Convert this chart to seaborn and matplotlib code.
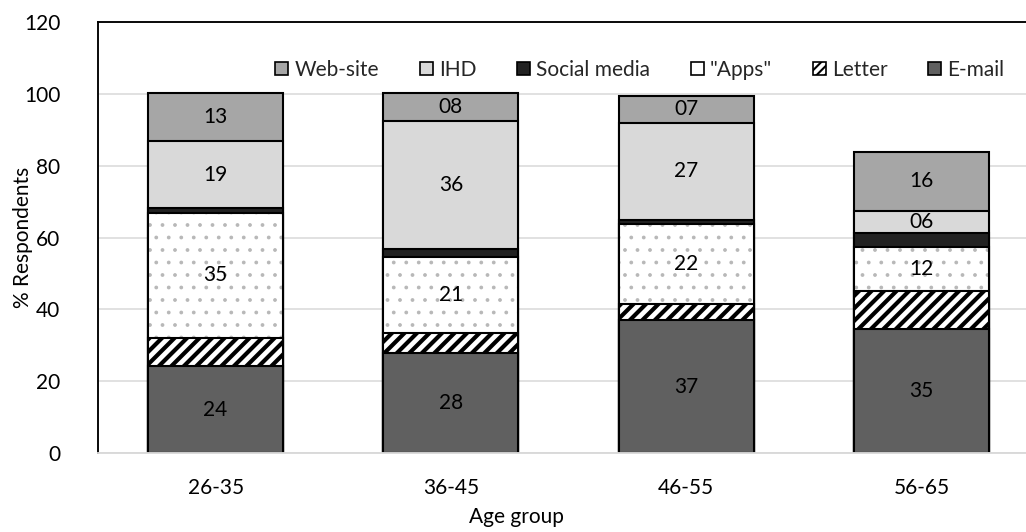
import numpy as np
import pandas as pd
import matplotlib
matplotlib.use("Agg")
import matplotlib.pyplot as plt
import seaborn as sns
from matplotlib.patches import Patch

# ---- data ----
age_groups = ["26-35", "36-45", "46-55", "56-65"]
email = [24.2, 27.8, 37.0, 34.6]
letter = [7.9, 5.5, 4.4, 10.4]
apps = [34.7, 21.4, 22.3, 12.3]
social_media = [1.4, 2.1, 1.2, 4.0]
ihd = [18.6, 35.6, 27.1, 6.2]
website = [13.3, 7.8, 7.3, 16.2]

series_names = ["E-mail", "Letter", '"Apps"', "Social media", "IHD", "Web-site"]
series_vals = [email, letter, apps, social_media, ihd, website]
labelled = {"E-mail", '"Apps"', "IHD", "Web-site"}

df = pd.DataFrame({n: v for n, v in zip(series_names, series_vals)}, index=age_groups)
cum = df.cumsum(axis=1)
bottoms = cum.shift(1, axis=1).fillna(0)

sns.set_theme(style="white")
plt.rcParams["font.family"] = ["Lato", "DejaVu Sans"]
plt.rcParams["font.size"] = 10

W, H, DPI = 1026, 532, 150
fig = plt.figure(figsize=(W / DPI, H / DPI), dpi=DPI)
ax = fig.add_axes([98 / W, (H - 453) / H, 941 / W, 431 / H])

BW = 0.574
EDGE = 1.0
styles = {
    "Web-site": dict(color="#A6A6A6"),
    "IHD": dict(color="#D9D9D9"),
    "Social media": dict(color="#222222"),
    '"Apps"': dict(color="white"),
    "Letter": dict(color="white"),
    "E-mail": dict(color="#606060"),
}

x = age_groups
for name in reversed(series_names):
    y = cum[name].values
    if name == '"Apps"':
        sns.barplot(x=x, y=y, color="white", saturation=1, width=BW,
                    edgecolor="#b8b8b8", linewidth=0, hatch="..", ax=ax,
                    errorbar=None)
        for p in ax.containers[-1]:
            if hasattr(p, "set_hatch_linewidth"):
                p.set_hatch_linewidth(0.6)
        sns.barplot(x=x, y=y, color="black", fill=False, saturation=1, width=BW,
                    linewidth=EDGE, ax=ax, errorbar=None)
    elif name == "Letter":
        with plt.rc_context({"hatch.linewidth": 2.0}):
            sns.barplot(x=x, y=y, color="white", saturation=1, width=BW,
                        edgecolor="black", linewidth=EDGE, hatch="////", ax=ax,
                        errorbar=None)
        for p in ax.containers[-1]:
            if hasattr(p, "set_hatch_linewidth"):
                p.set_hatch_linewidth(2.0)
    else:
        sns.barplot(x=x, y=y, color=styles[name]["color"], saturation=1, width=BW,
                    edgecolor="black", linewidth=EDGE, ax=ax, errorbar=None)

# value labels
for name in series_names:
    if name not in labelled:
        continue
    for i, g in enumerate(age_groups):
        v = df.loc[g, name]
        ax.text(i, bottoms.loc[g, name] + v / 2, f"{v:02.0f}", ha="center",
                va="center", fontsize=10, color="black", zorder=5)

ax.set_xlim(-0.5, 3.5)
ax.set_ylim(0, 120)
ax.set_yticks(np.arange(0, 121, 20))
ax.yaxis.grid(True, color="#D9D9D9", linewidth=0.75)
ax.set_axisbelow(True)
ax.spines["right"].set_visible(False)
ax.spines["left"].set_color("black")
ax.spines["left"].set_linewidth(0.9)
ax.spines["top"].set_color("black")
ax.spines["top"].set_linewidth(0.9)
ax.spines["bottom"].set_color("#D9D9D9")
ax.spines["bottom"].set_linewidth(0.9)
ax.tick_params(axis="y", length=0, pad=18, labelsize=10, colors="black")
ax.tick_params(axis="x", length=0, pad=12, labelsize=10, colors="black")

ax.set_xlabel("Age group", fontsize=10, color="black")
ax.set_ylabel("% Respondents", fontsize=10, color="black")
ax.xaxis.set_label_coords(0.445, -0.125)
ax.yaxis.set_label_coords(-0.069, 0.5)

leg_order = ["Web-site", "IHD", "Social media", '"Apps"', "Letter", "E-mail"]
handles = []
for n in leg_order:
    if n == "Letter":
        h = Patch(facecolor="white", edgecolor="black", hatch="//////", linewidth=0.8)
    else:
        h = Patch(facecolor=styles[n]["color"], edgecolor="black", linewidth=0.8)
    handles.append(h)
ax.legend(handles, leg_order, loc="center", bbox_to_anchor=(0.576, 0.889),
          ncol=6, frameon=False, fontsize=10, handlelength=0.62, handleheight=0.62,
          handletextpad=0.3, columnspacing=1.95, borderaxespad=0)

fig.savefig("out.png", dpi=DPI)
